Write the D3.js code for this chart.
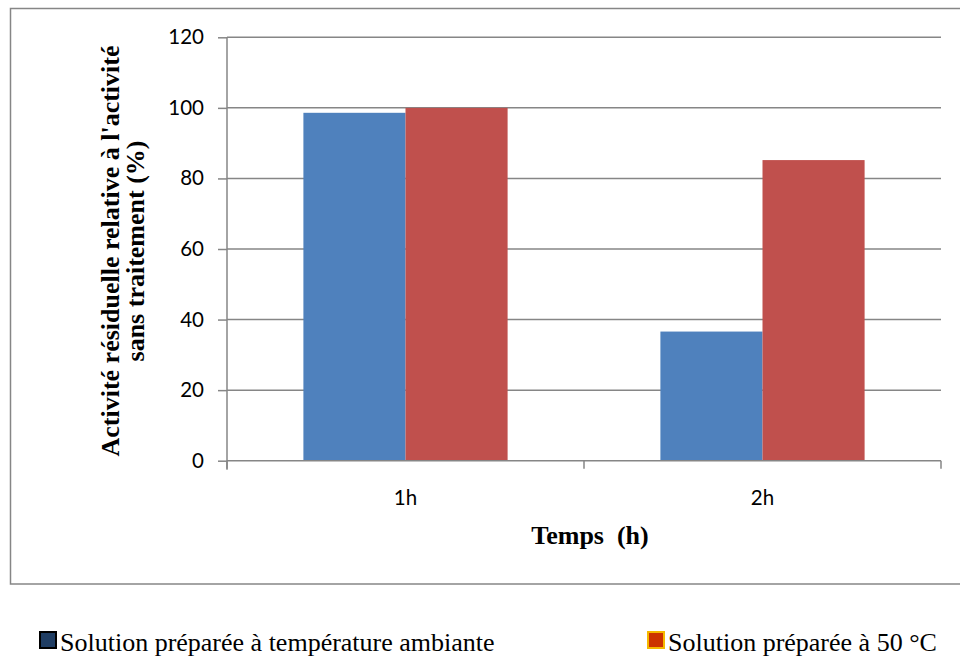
<!DOCTYPE html>
<html>
<head>
<meta charset="utf-8">
<script src="https://cdn.jsdelivr.net/npm/d3@7"></script>
<style>
  html, body { margin: 0; padding: 0; background: #fff; }
  svg { display: block; }
</style>
</head>
<body>
<svg id="chart" width="960" height="662"></svg>
<script>
// Temps de traitement (catégories) et activité résiduelle (%)
const categories = ["1h", "2h"];
const seriesNames = ["Solution préparée à température ambiante", "Solution préparée à 50 °C"];
const ambiante = [98.6, 36.6];
const cinquante = [100, 85.2];
const yTicks = [0, 20, 40, 60, 80, 100, 120];

const svg = d3.select("#chart");

// Cadre extérieur de la zone graphique
svg.append("rect")
  .attr("x", 10.5).attr("y", 8.5)
  .attr("width", 960).attr("height", 575.5)
  .attr("fill", "none").attr("stroke", "#868686").attr("stroke-width", 1.5);

const plot = { left: 227, right: 941, top: 37.3, bottom: 460.7 };

const x0 = d3.scaleBand().domain(categories).range([plot.left, plot.right]).paddingInner(0.428).paddingOuter(0.214);
const x1 = d3.scaleBand().domain([0, 1]).range([0, x0.bandwidth()]).padding(0);
const y = d3.scaleLinear().domain([0, 120]).range([plot.bottom, plot.top]);

// Quadrillage horizontal
svg.append("g")
  .selectAll("line")
  .data(yTicks.filter(d => d > 0))
  .join("line")
  .attr("x1", plot.left).attr("x2", plot.right)
  .attr("y1", d => y(d)).attr("y2", d => y(d))
  .attr("stroke", "#868686").attr("stroke-width", 1.5);

// Barres
const rows = categories.map((c, i) => ({ cat: c, vals: [ambiante[i], cinquante[i]] }));
const colors = ["#4F81BD", "#C0504D"];
const groups = svg.append("g").selectAll("g")
  .data(rows).join("g")
  .attr("transform", d => `translate(${x0(d.cat)},0)`);
groups.selectAll("rect")
  .data(d => d.vals.map((v, k) => ({ v, k })))
  .join("rect")
  .attr("x", d => x1(d.k))
  .attr("width", x1.bandwidth())
  .attr("y", d => y(d.v))
  .attr("height", d => y(0) - y(d.v))
  .attr("fill", d => colors[d.k]);

// Axe Y
const yAxis = d3.axisLeft(y).tickValues(yTicks).tickSize(9).tickPadding(14);
const gy = svg.append("g").attr("transform", `translate(${plot.left},0)`).call(yAxis);
gy.select(".domain").attr("stroke", "#868686").attr("stroke-width", 1.5)
  .attr("d", `M0,${plot.top}V${plot.bottom + 9}`);
gy.selectAll(".tick line").attr("stroke", "#868686").attr("stroke-width", 1.5);
gy.selectAll(".tick text")
  .attr("font-family", "Lato, 'Open Sans', sans-serif")
  .attr("font-size", 20.5).attr("fill", "#000");

// Axe X (graduations aux limites des catégories)
const step = x0.step();
const xTickPos = [plot.left, plot.left + step, plot.right];
svg.append("line")
  .attr("x1", plot.left).attr("x2", plot.right)
  .attr("y1", plot.bottom).attr("y2", plot.bottom)
  .attr("stroke", "#868686").attr("stroke-width", 1.5);
svg.append("g").selectAll("line")
  .data(xTickPos).join("line")
  .attr("x1", d => d).attr("x2", d => d)
  .attr("y1", plot.bottom).attr("y2", plot.bottom + 8)
  .attr("stroke", "#868686").attr("stroke-width", 1.5);
svg.append("g").selectAll("text")
  .data(categories).join("text")
  .attr("x", d => x0(d) + x0.bandwidth() / 2)
  .attr("y", 505)
  .attr("text-anchor", "middle")
  .attr("font-family", "Lato, 'Open Sans', sans-serif")
  .attr("font-size", 20.5).attr("fill", "#000")
  .text(d => d);

// Titres des axes
svg.append("text")
  .attr("x", 590).attr("y", 544)
  .attr("text-anchor", "middle")
  .attr("font-family", "'Liberation Serif', 'Times New Roman', serif")
  .attr("font-weight", "bold").attr("font-size", 26)
  .attr("xml:space", "preserve")
  .style("white-space", "pre")
  .text("Temps  (h)");

const yTitle = svg.append("text")
  .attr("transform", "rotate(-90)")
  .attr("text-anchor", "middle")
  .attr("font-family", "'Liberation Serif', 'Times New Roman', serif")
  .attr("font-weight", "bold").attr("font-size", 26);
yTitle.append("tspan").attr("x", -251).attr("y", 119).text("Activité résiduelle relative à l'activité");
yTitle.append("tspan").attr("x", -251).attr("y", 144).text("sans traitement (%)");

// Légende
const legend = [
  { x: 40, fill: "#1F3D63", stroke: "#000", label: seriesNames[0] },
  { x: 648, fill: "#CC3300", stroke: "#F5B800", label: seriesNames[1] }
];
const lg = svg.append("g").selectAll("g").data(legend).join("g");
lg.append("rect")
  .attr("x", d => d.x).attr("y", 632)
  .attr("width", 16).attr("height", 16)
  .attr("fill", d => d.fill).attr("stroke", d => d.stroke).attr("stroke-width", 2);
lg.append("text")
  .attr("x", d => d.x + 20).attr("y", 651)
  .attr("font-family", "'Liberation Serif', 'Times New Roman', serif")
  .attr("font-size", 26).attr("fill", "#000")
  .text(d => d.label);
</script>
</body>
</html>
